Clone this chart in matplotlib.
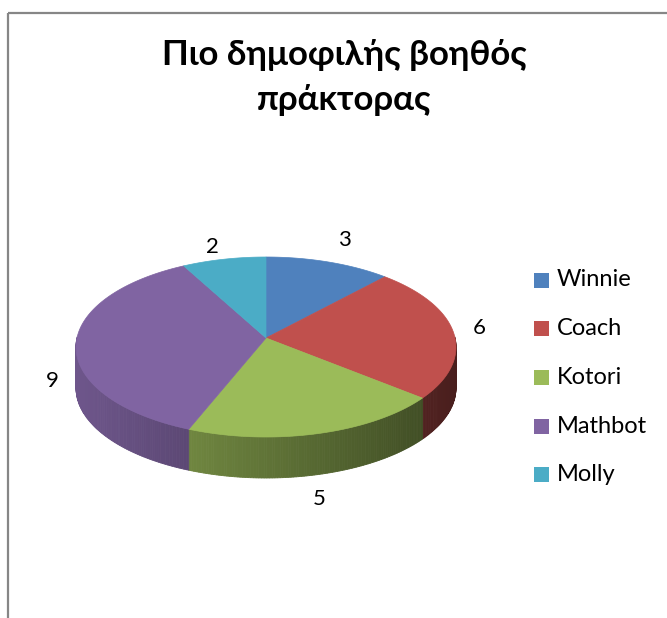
import numpy as np
import matplotlib
matplotlib.use("Agg")
import matplotlib.pyplot as plt
from matplotlib.patches import Polygon, Rectangle

plt.rcParams['font.family'] = ['Lato', 'Noto Sans', 'DejaVu Sans']

title_lines = ["Πιο δημοφιλής βοηθός", "πράκτορας"]
names = ['Winnie', 'Coach', 'Kotori', 'Mathbot', 'Molly']
votes = [3, 6, 5, 9, 2]
colors = ['#4F81BD', '#C0504D', '#9BBB59', '#8064A2', '#4BACC6']

W, H = 667, 618
fig = plt.figure(figsize=(W / 100, H / 100), dpi=100)
ax = fig.add_axes([0, 0, 1, 1])
ax.set_xlim(0, W)
ax.set_ylim(H, 0)
ax.axis('off')

# chart frame (only top and left edges visible in the crop)
ax.add_patch(Rectangle((8, 13), W + 20, H + 20, fill=False, ec='#868686', lw=1.6))

# pie geometry (pixels)
cx, cy = 266, 347      # ellipse centre
apex_y = 338
rx, ry = 190, 90
depth = 41
persp = np.radians(6.5)   # rough perspective squeeze of the far half


def pt(t):
    t = t - persp * np.sin(t)
    return cx + rx * np.sin(t), cy - ry * np.cos(t)


def shade(x):
    return 0.86 - 0.48 * (x - (cx - rx)) / (2 * rx)


fracs = np.array(votes) / sum(votes)
bounds = np.concatenate([[0], np.cumsum(fracs)]) * 2 * np.pi

# side walls (front half only: angles pi/2 .. 3pi/2)
for i in range(len(votes)):
    a0 = max(bounds[i], np.pi / 2)
    a1 = min(bounds[i + 1], 3 * np.pi / 2)
    if a1 <= a0:
        continue
    ts = np.linspace(a0, a1, max(3, int((a1 - a0) * 80)))
    base = np.array(matplotlib.colors.to_rgb(colors[i]))
    for t0, t1 in zip(ts[:-1], ts[1:]):
        x0, y0 = pt(t0)
        x1, y1 = pt(t1)
        c = np.clip(base * shade((x0 + x1) / 2), 0, 1)
        ax.add_patch(Polygon([(x0, y0), (x1, y1), (x1, y1 + depth), (x0, y0 + depth)],
                             closed=True, fc=c, ec=c, lw=0.6))

# top faces
for i in range(len(votes)):
    ts = np.linspace(bounds[i], bounds[i + 1], 120)
    xs, ys = pt(ts)
    verts = [(cx, apex_y)] + list(zip(xs, ys))
    ax.add_patch(Polygon(verts, closed=True, fc=colors[i], ec=colors[i], lw=0.5))

# data labels
for i, v in enumerate(votes):
    m = (bounds[i] + bounds[i + 1]) / 2
    lx = cx + 214 * np.sin(m)
    ly = cy - 114 * np.cos(m) + depth * max(0, -np.cos(m)) - 18 * np.sin(m) + 6
    ax.text(lx, ly, str(v), ha='center', va='center', fontsize=16, color='black')

# title
for k, line in enumerate(title_lines):
    ax.text(344, 65 + 45 * k, line, ha='center', va='baseline', fontsize=25,
            fontweight='bold')

# legend
for i, name in enumerate(names):
    y = 280 + i * 48.7
    ax.add_patch(Rectangle((534, y - 7.5), 15, 15, fc=colors[i], ec='none'))
    ax.text(557, y, name, ha='left', va='center', fontsize=17)

fig.savefig('out.png', dpi=100)
